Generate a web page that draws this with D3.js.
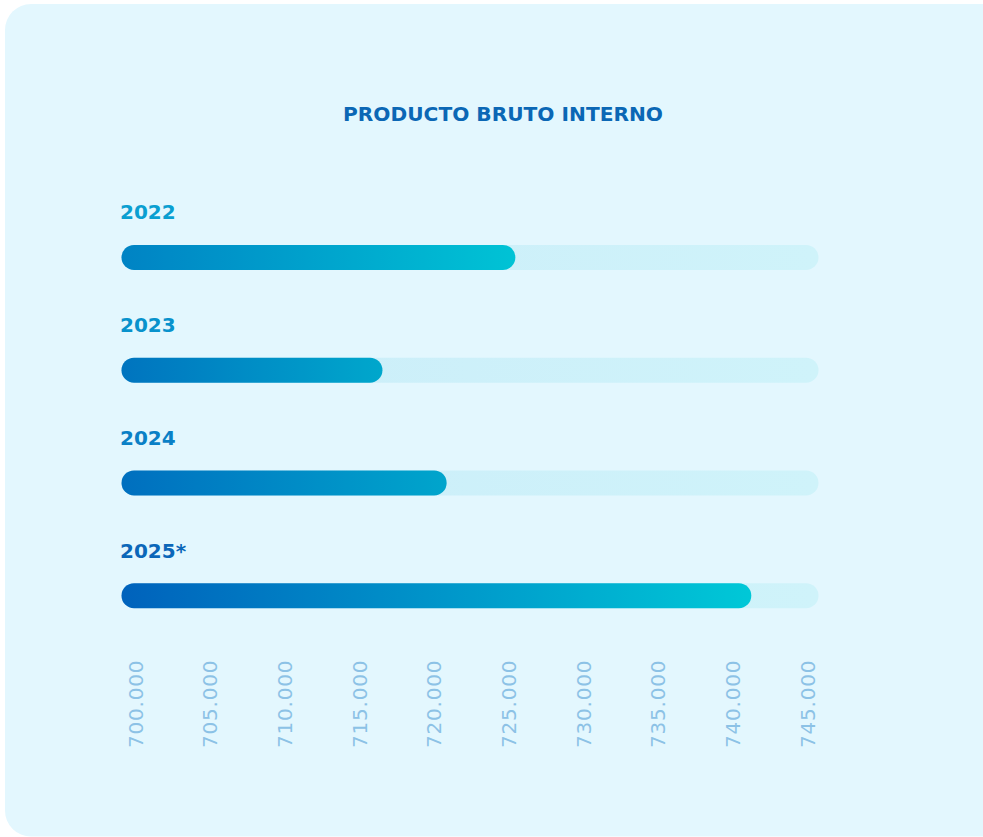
<!DOCTYPE html>
<html>
<head>
<meta charset="utf-8">
<script src="https://cdn.jsdelivr.net/npm/d3@7/dist/d3.min.js"></script>
<style>
  html, body { margin: 0; padding: 0; background: #ffffff; }
  svg { display: block; }
</style>
</head>
<body>
<svg id="chart" width="983" height="837"></svg>
<script>
// Producto Bruto Interno por año (miles de millones)
const years = ["2022", "2023", "2024", "2025*"];
const values = [724.7, 715.8, 720.1, 740.5];
const tickValues = [700, 705, 710, 715, 720, 725, 730, 735, 740, 745];
const tickLabels = ["700.000", "705.000", "710.000", "715.000", "720.000",
                    "725.000", "730.000", "735.000", "740.000", "745.000"];

// Per-year styling
const labelColors = ["#0a9fd1", "#0892cc", "#0a80c6", "#0b67b9"];
const barStart = ["#0083c4", "#0074bf", "#006fbf", "#0062bc"];
const barEnd = ["#00c3d5", "#00a7cc", "#00a5cc", "#00c8d7"];

const svg = d3.select("#chart");
const W = 983, H = 837;
const barH = 25;

// Card background
svg.append("rect")
  .attr("x", 5).attr("y", 4)
  .attr("width", W + 40).attr("height", 832.5)
  .attr("rx", 26).attr("ry", 26)
  .attr("fill", "#e3f7fe");

// Title
svg.append("text")
  .attr("x", 503).attr("y", 121)
  .attr("text-anchor", "middle")
  .attr("font-family", "'DejaVu Sans', sans-serif")
  .attr("font-weight", "bold")
  .attr("font-size", 19)
  .attr("textLength", 320)
  .attr("lengthAdjust", "spacingAndGlyphs")
  .attr("fill", "#0b67b5")
  .text("PRODUCTO BRUTO INTERNO");

const x = d3.scaleLinear().domain([700, 745]).range([134, 806]);
const y = d3.scaleBand().domain(years).range([201, 652]).paddingInner(0).paddingOuter(0);

const defs = svg.append("defs");
years.forEach((yr, i) => {
  const g = defs.append("linearGradient")
    .attr("id", "bar" + i)
    .attr("x1", "0%").attr("y1", "0%").attr("x2", "100%").attr("y2", "0%");
  g.append("stop").attr("offset", "0%").attr("stop-color", barStart[i]);
  g.append("stop").attr("offset", "100%").attr("stop-color", barEnd[i]);
});
const tg = defs.append("linearGradient")
  .attr("id", "track")
  .attr("x1", "0%").attr("y1", "0%").attr("x2", "100%").attr("y2", "0%");
tg.append("stop").attr("offset", "0%").attr("stop-color", "#cbedf9");
tg.append("stop").attr("offset", "100%").attr("stop-color", "#cff3fa");

const rows = svg.append("g").selectAll("g")
  .data(years.map((yr, i) => ({ yr, v: values[i], i })))
  .join("g")
  .attr("transform", d => `translate(0,${y(d.yr) + y.bandwidth() / 2})`);

// Year labels
rows.append("text")
  .attr("x", x(700) - 14)
  .attr("y", -38)
  .attr("font-family", "'DejaVu Sans', sans-serif")
  .attr("font-weight", "bold")
  .attr("font-size", 20)
  .attr("fill", d => labelColors[d.i])
  .text(d => d.yr);

// Background tracks
rows.append("rect")
  .attr("x", x(700) - barH / 2)
  .attr("y", -barH / 2)
  .attr("width", x(745) - x(700) + barH)
  .attr("height", barH)
  .attr("rx", barH / 2)
  .attr("fill", "url(#track)");

// Value bars
rows.append("rect")
  .attr("x", x(700) - barH / 2)
  .attr("y", -barH / 2)
  .attr("width", d => x(d.v) - x(700) + barH)
  .attr("height", barH)
  .attr("rx", barH / 2)
  .attr("fill", d => `url(#bar${d.i})`);

// Axis with rotated tick labels
const axis = d3.axisBottom(x)
  .tickValues(tickValues)
  .tickFormat((d, i) => tickLabels[i])
  .tickSize(0)
  .tickPadding(0);

const ax = svg.append("g").call(axis);
ax.select(".domain").remove();
ax.selectAll(".tick").attr("transform", d => `translate(${x(d) + 1.5},748)`);
ax.selectAll("text")
  .attr("font-family", "'DejaVu Sans', sans-serif")
  .attr("font-size", 20)
  .attr("letter-spacing", 0.8)
  .attr("fill", "#8cc2e6")
  .attr("text-anchor", "start")
  .attr("transform", "rotate(-90)")
  .attr("x", 0)
  .attr("y", 0)
  .attr("dy", "0.36em")
  .attr("dx", 0);
</script>
</body>
</html>
